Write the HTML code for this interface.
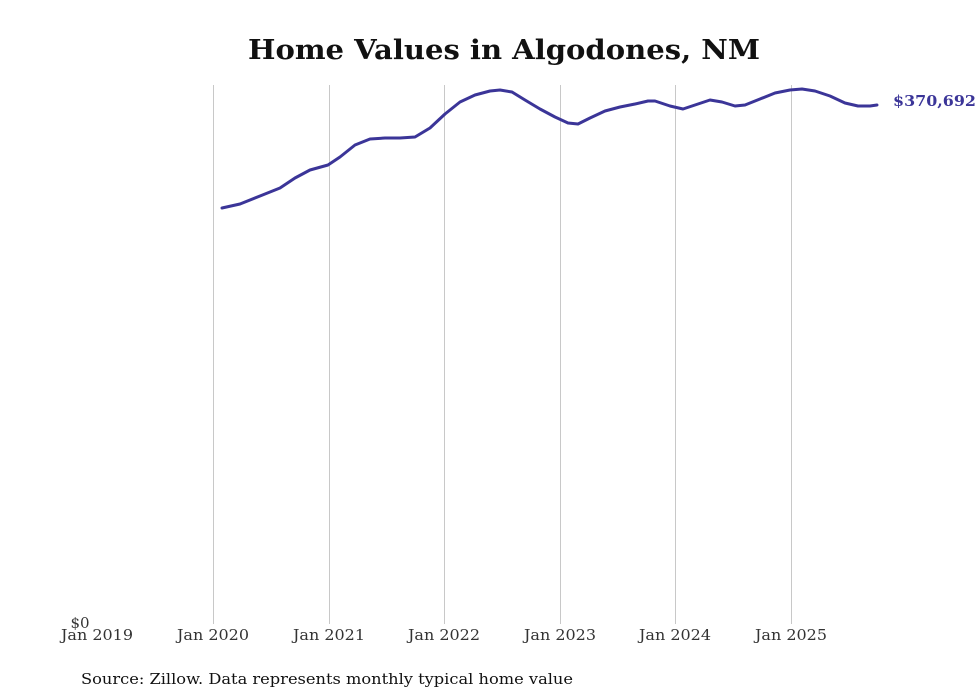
<!DOCTYPE html>
<html><head><meta charset="utf-8"><style>
html,body{margin:0;padding:0;background:#fff;}
svg{display:block;}
</style></head><body>
<svg width="980" height="699" viewBox="0 0 980 699" xmlns="http://www.w3.org/2000/svg">
<rect width="980" height="699" fill="#fff"/>
<text x="504" y="59" text-anchor="middle" font-family="DejaVu Serif, serif" font-weight="bold" font-size="27" fill="#111" textLength="512" lengthAdjust="spacingAndGlyphs">Home Values in Algodones, NM</text>
<g stroke="#c8c8c8" stroke-width="1">
<line x1="213.5" y1="85" x2="213.5" y2="624"/>
<line x1="329.5" y1="85" x2="329.5" y2="624"/>
<line x1="444.5" y1="85" x2="444.5" y2="624"/>
<line x1="560.5" y1="85" x2="560.5" y2="624"/>
<line x1="675.5" y1="85" x2="675.5" y2="624"/>
<line x1="791.5" y1="85" x2="791.5" y2="624"/>
</g>
<g font-family="DejaVu Serif, serif" font-size="15" fill="#333" text-anchor="middle">
<text x="97" y="640" textLength="72" lengthAdjust="spacingAndGlyphs">Jan 2019</text>
<text x="213" y="640" textLength="72" lengthAdjust="spacingAndGlyphs">Jan 2020</text>
<text x="329" y="640" textLength="72" lengthAdjust="spacingAndGlyphs">Jan 2021</text>
<text x="444" y="640" textLength="72" lengthAdjust="spacingAndGlyphs">Jan 2022</text>
<text x="560" y="640" textLength="72" lengthAdjust="spacingAndGlyphs">Jan 2023</text>
<text x="675" y="640" textLength="72" lengthAdjust="spacingAndGlyphs">Jan 2024</text>
<text x="791" y="640" textLength="72" lengthAdjust="spacingAndGlyphs">Jan 2025</text>
<text x="80" y="628">$0</text>
</g>
<polyline fill="none" stroke="#3b3598" stroke-width="3" stroke-linejoin="round" stroke-linecap="round" points="222,208 240,204 260,196 280,188 295,178 310,170 328,165 340,157 355,145 370,139 385,138 400,138 415,137 430,128 445,114 460,102 475,95 490,91 500,90 512,92 525,100 540,109 555,117 568,123 578,124 590,118 605,111 620,107 635,104 648,101 655,101 670,106 683,109 695,105 710,100 722,102 735,106 745,105 760,99 775,93 790,90 802,89 815,91 830,96 845,103 858,106 870,106 877,105"/>
<text x="893" y="106" font-family="DejaVu Serif, serif" font-weight="bold" font-size="15" fill="#3b3598" textLength="83" lengthAdjust="spacingAndGlyphs">$370,692</text>
<text x="81" y="684" font-family="DejaVu Serif, serif" font-size="15" fill="#111" textLength="492" lengthAdjust="spacingAndGlyphs">Source: Zillow. Data represents monthly typical home value</text>
</svg>
</body></html>
